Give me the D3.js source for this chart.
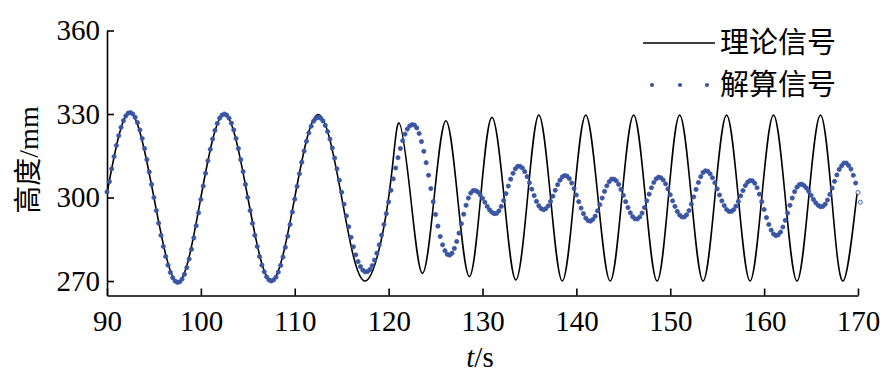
<!DOCTYPE html>
<html>
<head>
<meta charset="utf-8">
<script src="https://cdn.jsdelivr.net/npm/d3@7"></script>
<style>
  html, body { margin: 0; padding: 0; background: #fff; }
  svg { display: block; }
</style>
</head>
<body>
<svg id="chart" width="885" height="388"></svg>
<script>
// Theoretical signal: extremes and mid crossings.
var theoryTimes = [
  90, 92.45, 95, 97.55, 100, 102.5, 105, 107.5, 110, 112.5, 115, 117.5,
  120, 121.1, 122.35, 123.6, 124.85, 126.1, 127.35, 128.6, 129.8, 131,
  132.3, 133.55, 134.8, 136, 137.25, 138.5, 139.75, 141, 142.3, 143.6,
  144.85, 146.1, 147.35, 148.6, 149.8, 151, 152.25, 153.5, 154.75, 156,
  157.25, 158.5, 159.75, 161, 162.25, 163.5, 164.75, 166, 167.2, 168.4, 169.9
];
var theoryValues = [
  301.5, 330.5, 300, 269.5, 300, 330, 300, 270, 300, 329.8, 300, 270,
  300, 326.8, 300, 272.8, 300, 327.6, 300, 271.6, 300, 328.8,
  300, 270.4, 300, 329.6, 300, 270, 300, 329.6, 300, 270,
  300, 329.6, 300, 270, 300, 329.6, 300, 270, 300, 329.6,
  300, 270, 300, 329.6, 300, 270, 300, 329.6, 300, 270, 301.5
];

// Solved signal: one dot every 0.25 s from 90 s.
var solvedStart = 90;
var solvedStep = 0.25;
var solvedValues = [
  302.0, 305.7, 310.3, 314.7, 318.7, 322.2, 325.2, 327.6, 329.3, 330.3,
  330.5, 330.0, 328.8, 326.9, 324.3, 321.2, 317.6, 313.6, 309.2, 304.7, 300.0,
  295.3, 290.8, 286.4, 282.4, 278.8, 275.7, 273.1, 271.2, 270.0, 269.5,
  269.7, 270.7, 272.4, 274.8, 277.9, 281.4, 285.5, 289.9, 294.5, 299.3,
  304.1, 308.7, 313.2, 317.3, 321.0, 324.1, 326.6, 328.5, 329.6, 330.0,
  329.6, 328.5, 326.7, 324.3, 321.2, 317.6, 313.6, 309.3, 304.7, 300.0,
  295.3, 290.7, 286.4, 282.4, 278.8, 275.7, 273.3, 271.5, 270.4, 270.0,
  270.4, 271.4, 273.2, 275.6, 278.6, 282.1, 286.1, 290.3, 294.8, 299.4,
  304.0, 308.5, 312.7, 316.7, 320.2, 323.2, 325.6, 327.4, 328.4, 328.8,
  328.5, 327.5, 325.9, 323.7, 321.0, 317.8, 314.2, 310.3, 306.2, 301.9,
  297.6, 293.4, 289.5, 285.7, 282.3, 279.4, 277.0, 275.2, 273.9, 273.3,
  273.4, 274.1, 275.5, 277.5, 280.0, 283.0, 286.5, 290.3, 294.2, 298.4,
  302.6, 306.7, 310.6, 314.3, 317.6, 320.4, 322.8, 324.6, 325.7, 326.2,
  326.0, 325.0, 323.0, 320.1, 316.6, 312.5, 308.0, 303.2, 298.5, 293.9,
  289.7, 286.0, 283.0, 280.9, 279.6,
  279.3, 280.0, 281.7, 284.2, 287.2, 290.6, 294.0, 297.2, 299.8, 301.6, 302.5,
  302.5, 302.0, 301.0, 299.7, 298.3, 296.8, 295.6, 294.7, 294.2,
  294.3, 295.2, 296.8, 298.9, 301.4, 304.1, 306.6, 308.7, 310.3, 311.2,
  311.2, 310.6, 309.3, 307.5, 305.3, 303.0, 300.7, 298.6, 297.0, 296.0, 295.6,
  296.0, 297.0, 298.6, 300.5, 302.6, 304.6, 306.2, 307.4, 307.9,
  307.7, 306.8, 305.2, 303.2, 300.9, 298.5, 296.2, 294.2, 292.6, 291.7,
  291.5, 292.1, 293.3, 295.2, 297.4, 299.8, 302.2, 304.2, 305.7, 306.6,
  306.6, 306.0, 304.7, 302.9, 300.8, 298.5, 296.4, 294.5, 293.1, 292.3,
  292.3, 293.0, 294.4, 296.4, 298.8, 301.2, 303.5, 305.4, 306.7, 307.3,
  307.1, 306.3, 304.9, 303.1, 301.0, 298.8, 296.8, 295.0, 293.7, 293.0,
  293.0, 293.8, 295.3, 297.6, 300.2, 302.9, 305.4, 307.5, 309.0, 309.6,
  309.4, 308.5, 307.1, 305.3, 303.1, 300.9, 298.8, 297.1, 295.7, 295.0,
  295.0, 295.6, 296.9, 298.6, 300.6, 302.5, 304.3, 305.5, 306.1,
  306.0, 305.1, 303.5, 301.2, 298.5, 295.7, 292.8, 290.3, 288.3, 286.9, 286.3,
  286.6, 287.6, 289.4, 291.8, 294.4, 297.2, 299.8, 302.1, 303.7, 304.6,
  304.8, 304.3, 303.4, 302.2, 300.8, 299.3, 298.1, 297.2, 296.7,
  296.8, 297.6, 299.1, 301.1, 303.4, 305.8, 308.1, 310.1, 311.4, 312.4,
  312.4, 311.5, 310.2, 308.0, 305.2, 301.8, 298.3
];

var xTicks = [90, 100, 110, 120, 130, 140, 150, 160, 170];
var yTicks = [270, 300, 330, 360];
var legendLabels = ["理论信号", "解算信号"];

var serif = "'Liberation Serif', 'Times New Roman', serif";
var cjk = "'Noto Sans CJK SC', 'Liberation Serif', sans-serif";
var dotColor = "#3a55a4";

var svg = d3.select("#chart");

var x = d3.scaleLinear().domain([90, 170]).range([107, 858]);
var y = d3.scaleLinear().domain([264.8, 360]).range([295.5, 30.5]);

// Axes, with the ticks pointing inside the plot:
var xAxis = svg.append("g")
  .attr("transform", "translate(0," + y(264.8) + ")")
  .call(d3.axisBottom(x).tickValues(xTicks).tickFormat(d3.format("d"))
    .tickSizeInner(-7).tickSizeOuter(0).tickPadding(15));

var yAxis = svg.append("g")
  .attr("transform", "translate(" + x(90) + ",0)")
  .call(d3.axisLeft(y).tickValues(yTicks).tickFormat(d3.format("d"))
    .tickSizeInner(-7).tickSizeOuter(0).tickPadding(7));

[xAxis, yAxis].forEach(function(g) {
  g.select(".domain").attr("stroke", "#000").attr("stroke-width", 1.6);
  g.selectAll(".tick line").attr("stroke", "#000").attr("stroke-width", 1.6);
  g.selectAll(".tick text")
    .attr("fill", "#000")
    .style("font-family", serif)
    .style("font-size", "29px");
});

// Theoretical signal as a smooth line through the read points:
var line = d3.line()
  .x(function(d) { return x(d[0]); })
  .y(function(d) { return y(d[1]); })
  .curve(d3.curveNatural);

svg.append("path")
  .datum(d3.zip(theoryTimes, theoryValues))
  .attr("d", line)
  .attr("fill", "none")
  .attr("stroke", "#000")
  .attr("stroke-width", 1.6);

// Solved signal as dots:
svg.append("g").selectAll("circle")
  .data(solvedValues)
  .enter().append("circle")
  .attr("cx", function(d, i) { return x(solvedStart + i * solvedStep); })
  .attr("cy", function(d) { return y(d); })
  .attr("r", 2.1)
  .attr("fill", function(d, i) {
    // The last samples past the axis end look like rings in the original:
    return solvedStart + i * solvedStep > 169.9 ? "#dfe5f3" : dotColor;
  })
  .attr("stroke", dotColor)
  .attr("stroke-width", 0.8);

// Legend:
var legend = svg.append("g");
legend.append("line")
  .attr("x1", 643).attr("x2", 715)
  .attr("y1", 43).attr("y2", 43)
  .attr("stroke", "#000").attr("stroke-width", 1.6);
legend.selectAll("circle")
  .data([652, 680, 707])
  .enter().append("circle")
  .attr("cx", function(d) { return d; })
  .attr("cy", 85)
  .attr("r", 2.1)
  .attr("fill", dotColor);
legend.selectAll("text")
  .data(legendLabels)
  .enter().append("text")
  .attr("x", 720)
  .attr("y", function(d, i) { return 43 + i * 42; })
  .attr("dy", "0.36em")
  .style("font-family", cjk)
  .style("font-size", "29px")
  .attr("fill", "#000")
  .text(function(d) { return d; });

// Axis titles:
var xTitle = svg.append("text")
  .attr("x", 480)
  .attr("y", 367)
  .attr("text-anchor", "middle")
  .style("font-family", serif)
  .style("font-size", "29px")
  .attr("fill", "#000");
xTitle.append("tspan").style("font-style", "italic").text("t");
xTitle.append("tspan").text("/s");

var yTitle = svg.append("text")
  .attr("transform", "translate(38,160) rotate(-90)")
  .attr("text-anchor", "middle")
  .attr("fill", "#000")
  .style("font-size", "28px");
yTitle.append("tspan").style("font-family", cjk).text("高度");
yTitle.append("tspan").style("font-family", serif).text("/mm");
</script>
</body>
</html>
